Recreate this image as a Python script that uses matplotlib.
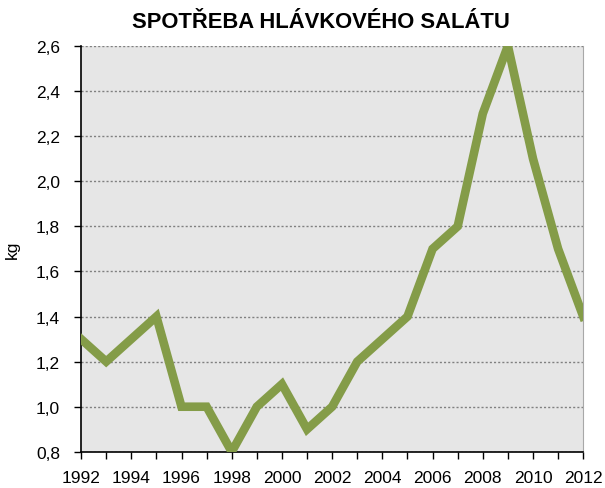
import matplotlib
matplotlib.use("Agg")
import matplotlib.pyplot as plt
from matplotlib.ticker import FuncFormatter, MultipleLocator

years = list(range(1992, 2013))
consumption = [1.3, 1.2, 1.3, 1.4, 1.0, 1.0, 0.8, 1.0, 1.1, 0.9, 1.0,
               1.2, 1.3, 1.4, 1.7, 1.8, 2.3, 2.6, 2.1, 1.7, 1.4]

plt.rcParams["font.family"] = ["Liberation Sans", "DejaVu Sans"]

fig = plt.figure(figsize=(6.05, 4.89), dpi=100)
ax = fig.add_axes([0.134, 0.074, 0.83, 0.83])
ax.set_facecolor("#e6e6e6")

# line is clipped at the plot area, like in the original
ax.plot(years, consumption, color="#849c48", linewidth=6.2,
        solid_joinstyle="miter", zorder=3)

ax.set_xlim(1992, 2012)
ax.set_ylim(0.8, 2.6)
ax.xaxis.set_major_locator(MultipleLocator(2))
ax.xaxis.set_minor_locator(MultipleLocator(1))
ax.yaxis.set_major_locator(MultipleLocator(0.2))
ax.yaxis.set_major_formatter(FuncFormatter(lambda v, _: f"{v:.1f}".replace(".", ",")))

ax.grid(axis="y", color="#808080", linestyle=(0, (1.5, 1.5)), linewidth=1)
ax.set_axisbelow(True)

ax.spines["top"].set_visible(False)
ax.spines["right"].set_color("#a8a8a8")
ax.spines["left"].set_linewidth(1.2)
ax.spines["bottom"].set_linewidth(1.2)

ax.tick_params(axis="both", which="major", direction="out", length=5,
               labelsize=12.5, width=1)
ax.tick_params(axis="x", which="minor", direction="out", length=5, width=1)
ax.tick_params(axis="x", which="major", pad=8)
ax.tick_params(axis="y", which="major", pad=10)

ax.set_ylabel("kg", fontsize=12.5, labelpad=12)
fig.text(0.53, 0.955, "SPOTŘEBA HLÁVKOVÉHO SALÁTU", fontsize=15.8,
         fontweight="bold", ha="center", va="center")

fig.savefig("out.png", dpi=100)
